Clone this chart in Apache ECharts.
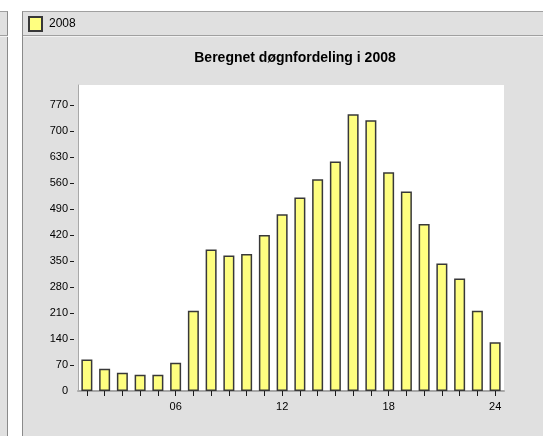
<!DOCTYPE html>
<html>
<head>
<meta charset="utf-8">
<script src="https://cdn.jsdelivr.net/npm/echarts@6/dist/echarts.min.js"></script>
<style>
  html, body { margin: 0; padding: 0; background: #ffffff; }
  #wrap { position: relative; width: 543px; height: 436px; overflow: hidden; }
  .panel { position: absolute; background: #e0e0e0; }
  #leftp { left: 0; top: 11px; width: 7px; height: 425px; border-right: 1px solid #8a8a8a; border-top: 1px solid #a0a0a0; }
  #mainp { left: 22px; top: 11px; width: 521px; height: 425px; border-left: 1px solid #8a8a8a; border-top: 1px solid #a0a0a0; }
  .sep { position: absolute; height: 1px; background: #a0a0a0; }
  .sepl { position: absolute; height: 1px; background: #f2f2f2; }
  #chart { position: absolute; left: 0; top: 0; width: 543px; height: 436px; }
</style>
</head>
<body>
<div id="wrap">
  <div class="panel" id="leftp"></div>
  <div class="panel" id="mainp"></div>
  <div class="sep" style="left:0;top:35px;width:8px;"></div>
  <div class="sepl" style="left:0;top:36px;width:8px;"></div>
  <div class="sep" style="left:23px;top:35px;width:520px;"></div>
  <div class="sepl" style="left:23px;top:36px;width:520px;"></div>
  <div id="chart"></div>
</div>
<script>
const titleText = 'Beregnet døgnfordeling i 2008';
const seriesName = '2008';
const hours = ['01','02','03','04','05','06','07','08','09','10','11','12',
               '13','14','15','16','17','18','19','20','21','22','23','24'];
const values = [85, 60, 49, 44, 44, 76, 216, 381, 365, 369, 420, 476,
                521, 570, 618, 745, 729, 589, 537, 450, 343, 303, 216, 131];
const yTickLabels = [0, 70, 140, 210, 280, 350, 420, 490, 560, 630, 700, 770];
const yTickMarks = [70, 140, 210, 280, 350, 420, 490, 560, 630, 700, 770];

const chart = echarts.init(document.getElementById('chart'), null, { renderer: 'canvas' });
const font = '"Liberation Sans", Arial, sans-serif';
chart.setOption({
  backgroundColor: 'transparent',
  animation: false,
  title: {
    text: titleText,
    left: 290,
    top: 46,
    textAlign: 'center',
    textStyle: { fontFamily: font, fontSize: 14, fontWeight: 'bold', color: '#000000' }
  },
  legend: {
    left: 28,
    top: 16,
    padding: 0,
    itemWidth: 13,
    itemHeight: 14,
    icon: 'rect',
    data: [seriesName],
    textStyle: { fontFamily: font, fontSize: 12, color: '#000000', padding: [0, 0, 0, 2] }
  },
  grid: {
    left: 78, right: 39, top: 85, bottom: 45,
    show: true, backgroundColor: '#ffffff', borderWidth: 0
  },
  xAxis: [{
    type: 'category',
    data: hours,
    axisLine: { show: false },
    axisTick: { show: true, interval: 0, alignWithLabel: true, length: 5,
                lineStyle: { color: '#1a1a1a', width: 1 } },
    axisLabel: { interval: function (i) { return (i + 1) % 6 === 0; },
                 margin: 10, fontFamily: font, fontSize: 11, color: '#000000' },
    splitLine: { show: false }
  }, {
    type: 'category',
    data: hours,
    position: 'top',
    axisLine: { show: true, lineStyle: { color: '#a8a8a8', width: 2 } },
    axisTick: { show: false },
    axisLabel: { show: false },
    splitLine: { show: false }
  }],
  yAxis: [{
    type: 'value',
    min: 0,
    max: 824,
    offset: 4,
    axisLine: { show: false },
    axisTick: { show: true, length: 4, customValues: yTickMarks,
                lineStyle: { color: '#1a1a1a', width: 1 } },
    axisLabel: { customValues: yTickLabels, margin: 6,
                 fontFamily: font, fontSize: 11, color: '#000000' },
    splitLine: { show: false }
  }, {
    type: 'value',
    min: 0,
    max: 824,
    position: 'left',
    offset: 0,
    axisLine: { show: true, lineStyle: { color: '#a8a8a8', width: 1 } },
    axisTick: { show: false },
    axisLabel: { show: false },
    splitLine: { show: false }
  }],
  series: [{
    name: seriesName,
    type: 'bar',
    xAxisIndex: 0,
    yAxisIndex: 0,
    data: values,
    barWidth: 11,
    itemStyle: { color: '#ffff80', borderColor: '#383838', borderWidth: 1.5 }
  }]
});
</script>
</body>
</html>
